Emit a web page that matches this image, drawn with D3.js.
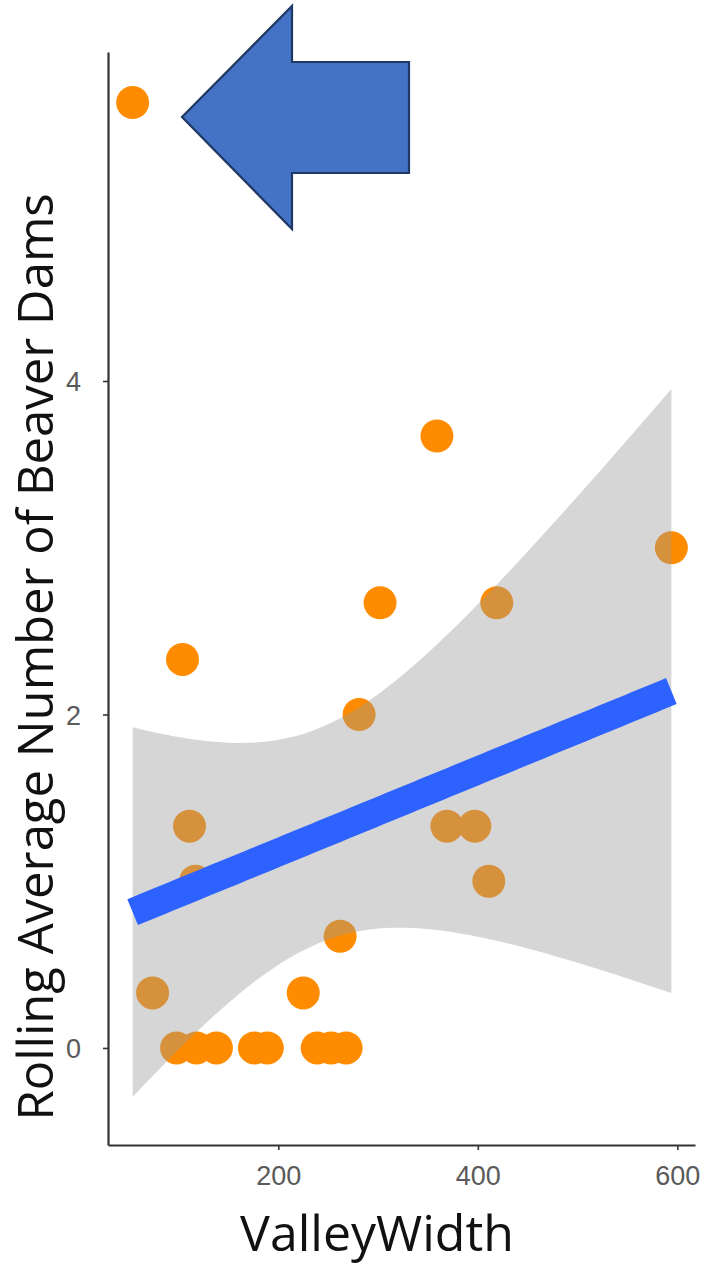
<!DOCTYPE html>
<html>
<head>
<meta charset="utf-8">
<script src="https://cdn.jsdelivr.net/npm/d3@7"></script>
<style>
  html, body { margin: 0; padding: 0; background: #ffffff; }
  svg { display: block; }
</style>
</head>
<body>
<svg id="chart" width="704" height="1268"></svg>
<script>
// Valley width (m) for each surveyed reach
const valleyWidth = [54, 359, 594, 302, 419, 104, 281, 111, 369, 397, 411, 117,
                     262, 74, 225, 98, 118, 138, 176, 189, 239, 253, 268];
// Rolling average number of beaver dams at each reach
const damsAvg = [5.67, 3.67, 3.0, 2.67, 2.67, 2.33, 2.0, 1.33, 1.33, 1.33, 1.0, 1.0,
                 0.67, 0.33, 0.33, 0, 0, 0, 0, 0, 0, 0, 0];
const xTickValues = [200, 400, 600];
const yTickValues = [0, 2, 4];
const xTitle = "ValleyWidth";
const yTitle = "Rolling Average Number of Beaver Dams";

const svg = d3.select("#chart");
svg.append("rect").attr("width", 704).attr("height", 1268).attr("fill", "#ffffff");

const x = d3.scaleLinear().domain([29.3, 617.7]).range([108, 695]);
const y = d3.scaleLinear().domain([-0.582, 5.973]).range([1145, 52]);

// Ordinary least-squares fit with a 95% confidence band
const n = valleyWidth.length;
const mx = d3.mean(valleyWidth), my = d3.mean(damsAvg);
let sxx = 0, sxy = 0;
for (let i = 0; i < n; i++) {
  sxx += (valleyWidth[i] - mx) ** 2;
  sxy += (valleyWidth[i] - mx) * (damsAvg[i] - my);
}
const slope = sxy / sxx;
const intercept = my - slope * mx;
let sse = 0;
for (let i = 0; i < n; i++) sse += (damsAvg[i] - (intercept + slope * valleyWidth[i])) ** 2;
const sigma = Math.sqrt(sse / (n - 2));

// Student t quantile via Cornish-Fisher expansion around the normal quantile
function tQuantile975(df) {
  const z = 1.959964;
  return z + (z ** 3 + z) / (4 * df)
           + (5 * z ** 5 + 16 * z ** 3 + 3 * z) / (96 * df * df)
           + (3 * z ** 7 + 19 * z ** 5 + 17 * z ** 3 - 15 * z) / (384 * df ** 3);
}
const tq = tQuantile975(n - 2);

const [xMin, xMax] = d3.extent(valleyWidth);
const fitPts = d3.range(80).map(i => {
  const xv = xMin + (xMax - xMin) * i / 79;
  const fit = intercept + slope * xv;
  const se = sigma * Math.sqrt(1 / n + (xv - mx) ** 2 / sxx);
  return { xv, fit, lo: fit - tq * se, hi: fit + tq * se };
});

// Points
svg.append("g")
  .selectAll("circle")
  .data(valleyWidth.map((v, i) => ({ v, d: damsAvg[i] })))
  .join("circle")
  .attr("cx", p => x(p.v))
  .attr("cy", p => y(p.d))
  .attr("r", 16.5)
  .attr("fill", "#FF8C00");

// Confidence ribbon
svg.append("path")
  .datum(fitPts)
  .attr("d", d3.area().x(p => x(p.xv)).y0(p => y(p.lo)).y1(p => y(p.hi)))
  .attr("fill", "#999999")
  .attr("fill-opacity", 0.4);

// Fitted line
svg.append("path")
  .datum(fitPts)
  .attr("d", d3.line().x(p => x(p.xv)).y(p => y(p.fit)))
  .attr("fill", "none")
  .attr("stroke", "#2E62FF")
  .attr("stroke-width", 28)
  .attr("stroke-linecap", "butt");

// Axes
const xAxis = svg.append("g")
  .attr("transform", "translate(0,1145)")
  .call(d3.axisBottom(x).tickValues(xTickValues).tickFormat(d3.format("d"))
          .tickSize(5).tickSizeOuter(0));
const yAxis = svg.append("g")
  .attr("transform", "translate(108,0)")
  .call(d3.axisLeft(y).tickValues(yTickValues).tickFormat(d3.format("d"))
          .tickSize(5).tickSizeOuter(0));

[xAxis, yAxis].forEach(g => {
  g.select(".domain").attr("stroke", "#333333").attr("stroke-width", 2.2);
  g.selectAll(".tick line").attr("stroke", "#333333").attr("stroke-width", 1.6);
  g.selectAll(".tick text")
    .attr("font-family", "'Liberation Sans', Arial, sans-serif")
    .attr("font-size", 27)
    .attr("fill", "#5a5a5a");
});
xAxis.selectAll(".tick text").attr("y", 40).attr("dy", 0);
yAxis.selectAll(".tick text").attr("x", -27).attr("dy", "0.36em");

// Axis titles
svg.append("text")
  .attr("x", 377).attr("y", 1251)
  .attr("text-anchor", "middle")
  .attr("font-family", "'Open Sans', sans-serif")
  .attr("font-size", 50)
  .attr("fill", "#111111")
  .text(xTitle);

svg.append("text")
  .attr("transform", "translate(53,657) rotate(-90)")
  .attr("text-anchor", "middle")
  .attr("font-family", "'Open Sans', sans-serif")
  .attr("font-size", 49)
  .attr("fill", "#111111")
  .text(yTitle);

// Call-out arrow pointing at the outlying reach
const arrowShape = [[182, 117], [292, 6], [292, 62], [409, 62], [409, 173], [292, 173], [292, 229]];
svg.append("polygon")
  .attr("points", arrowShape.map(p => p.join(",")).join(" "))
  .attr("fill", "#4472C4")
  .attr("stroke", "#1F3864")
  .attr("stroke-width", 2.2)
  .attr("stroke-linejoin", "miter");
</script>
</body>
</html>
